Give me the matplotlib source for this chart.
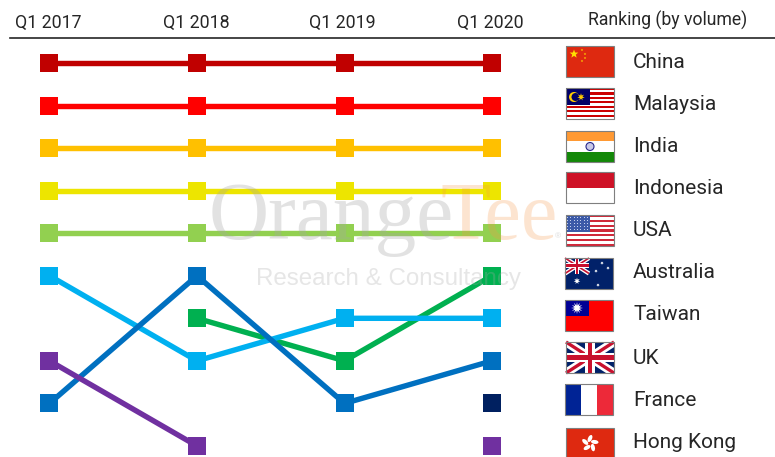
import numpy as np
import matplotlib
matplotlib.use("Agg")
import matplotlib.pyplot as plt
from matplotlib.patches import Rectangle, Circle, Polygon, Ellipse

plt.rcParams['font.family'] = ['Roboto', 'DejaVu Sans']

# Data: rank of each country per quarter (nan = not in the top 10)
quarters = ["Q1 2017", "Q1 2018", "Q1 2019", "Q1 2020"]
china = [1, 1, 1, 1]
malaysia = [2, 2, 2, 2]
india = [3, 3, 3, 3]
indonesia = [4, 4, 4, 4]
usa = [5, 5, 5, 5]
australia = [np.nan, 7, 8, 6]
taiwan = [6, 8, 7, 7]
uk = [9, 6, 9, 8]
france = [np.nan, np.nan, np.nan, 9]
hong_kong = [8, 10, np.nan, 10]
countries = ["China", "Malaysia", "India", "Indonesia", "USA", "Australia",
             "Taiwan", "UK", "France", "Hong Kong"]
colors = ["#C00000", "#FF0000", "#FFC000", "#EDE500", "#92D050", "#00B050",
          "#00B0F0", "#0070C0", "#002060", "#7030A0"]
series = [china, malaysia, india, indonesia, usa, australia, taiwan, uk, france, hong_kong]

W, H = 775, 457
fig = plt.figure(figsize=(W / 100, H / 100), dpi=100)

# Chart axes covers the whole figure, limits line up ranks with the rows
ax = fig.add_axes([0, 0, 1, 1])
ax.set_xlim(-49.5 / 147.5, (W - 49.5) / 147.5)
ax.set_ylim(1 + (H - 63) / 42.55, 1 - 63 / 42.55)
ax.axis("off")
for vals, col in zip(series, colors):
    vals = np.array(vals, dtype=float)
    x = np.arange(len(vals))
    # only connect neighbouring quarters
    ax.plot(x, vals, color=col, lw=3.9, solid_capstyle="butt", zorder=2)
    ax.plot(x, vals, color=col, ls="none", marker="s", ms=13, mew=0, zorder=3)

# Overlay in pixel coordinates for header, flags and watermark
ov = fig.add_axes([0, 0, 1, 1])
ov.set_xlim(0, W)
ov.set_ylim(H, 0)
ov.axis("off")
ov.patch.set_alpha(0)

for q, px in zip(quarters, [48.5, 196, 342, 490]):
    ov.text(px, 23, q, ha="center", va="center", fontsize=12.8, color="#262626")
ov.text(668, 20, "Ranking (by volume)", ha="center", va="center", fontsize=12.7, color="#262626")
ov.plot([10, 775], [38, 38], color="#262626", lw=1.2)


def star(cx, cy, r, color, n=5, zorder=6):
    ang = np.linspace(-np.pi / 2, 1.5 * np.pi, 2 * n, endpoint=False)
    rad = np.where(np.arange(2 * n) % 2 == 0, r, r * 0.42)
    ov.add_patch(Polygon(np.c_[cx + rad * np.cos(ang), cy + rad * np.sin(ang)],
                         fc=color, ec="none", zorder=zorder))


def rect(x, y, w, h, color, zorder=5):
    ov.add_patch(Rectangle((x, y), w, h, fc=color, ec="none", zorder=zorder))


def line(xs, ys, color, lw, zorder=6):
    ov.plot(xs, ys, color=color, lw=lw, solid_capstyle="butt", zorder=zorder)


def union_jack(x, y, w, h, zorder=6):
    line([x, x + w], [y, y + h], "white", w * 0.13, zorder)
    line([x, x + w], [y + h, y], "white", w * 0.13, zorder)
    line([x, x + w], [y, y + h], "#C8102E", w * 0.05, zorder)
    line([x, x + w], [y + h, y], "#C8102E", w * 0.05, zorder)
    rect(x + w * 0.40, y, w * 0.20, h, "white", zorder)
    rect(x, y + h * 0.35, w, h * 0.30, "white", zorder)
    rect(x + w * 0.45, y, w * 0.10, h, "#C8102E", zorder)
    rect(x, y + h * 0.41, w, h * 0.18, "#C8102E", zorder)


def flag_china(x, y, w, h):
    rect(x, y, w, h, "#DE2910")
    star(x + 8, y + 8, 4.5, "#FFDE00")
    for dx, dy in [(16, 4), (19, 8), (19, 12), (16, 15)]:
        star(x + dx, y + dy, 1.3, "#FFDE00")


def flag_malaysia(x, y, w, h):
    rect(x, y, w, h, "white")
    for i in range(0, 14, 2):
        rect(x, y + i * h / 14, w, h / 14, "#CC0001")
    rect(x, y, w * 0.5, h * 0.5 + 1, "#010066")
    ov.add_patch(Circle((x + 8, y + 9), 5, fc="#FFCC00", ec="none", zorder=6))
    ov.add_patch(Circle((x + 9.5, y + 9), 4, fc="#010066", ec="none", zorder=6))
    star(x + 15, y + 9, 3.8, "#FFCC00", n=7, zorder=7)


def flag_india(x, y, w, h):
    rect(x, y, w, h / 3, "#FF9933")
    rect(x, y + h / 3, w, h / 3, "white")
    rect(x, y + 2 * h / 3, w, h / 3, "#138808")
    ov.add_patch(Circle((x + w / 2, y + h / 2), 4, fc="#C9C9E8", ec="#2A2A8C", lw=0.8, zorder=6))


def flag_indonesia(x, y, w, h):
    rect(x, y, w, h, "white")
    rect(x, y, w, h / 2, "#CE1126")


def flag_usa(x, y, w, h):
    rect(x, y, w, h, "white")
    for i in range(0, 13, 2):
        rect(x, y + i * h / 13, w, h / 13, "#D0293A")
    rect(x, y, w * 0.5, h * 7 / 13, "#3C5AA8")
    for i in range(7):
        for j in range(5):
            rect(x + 1 + i * 3.3, y + 1.5 + j * 3, 1, 1, "#C8D2EE", zorder=6)


def flag_australia(x, y, w, h):
    rect(x, y, w, h, "#012169")
    union_jack(x, y, w / 2, h / 2)
    star(x + 12, y + 23, 3.4, "white", n=7)
    for dx, dy in [(37, 5), (31, 13), (43, 10), (33, 27)]:
        star(x + dx, y + dy, 1.8, "white", n=7)


def flag_taiwan(x, y, w, h):
    rect(x, y, w, h, "#FE0000")
    rect(x, y, w / 2, h / 2, "#000095")
    star(x + 12, y + 8, 6, "white", n=12)


def flag_uk(x, y, w, h):
    rect(x, y, w, h, "#012169")
    union_jack(x, y, w, h)


def flag_france(x, y, w, h):
    rect(x, y, w / 3, h, "#002395")
    rect(x + w / 3, y, w / 3, h, "white")
    rect(x + 2 * w / 3, y, w / 3, h, "#ED2939")


def flag_hong_kong(x, y, w, h):
    rect(x, y, w, h, "#DE2910")
    cx, cy = x + w / 2, y + h / 2
    # five separate petals pointing out from the centre
    for d in [-90, -18, 54, 126, 198]:
        a = np.deg2rad(d)
        ov.add_patch(Ellipse((cx + 5 * np.cos(a), cy + 5 * np.sin(a)), 7.5, 4,
                             angle=d + 25, fc="white", ec="none", zorder=6))


flag_funcs = [flag_china, flag_malaysia, flag_india, flag_indonesia, flag_usa,
              flag_australia, flag_taiwan, flag_uk, flag_france, flag_hong_kong]
flag_x = [566, 566, 566, 566, 566, 565, 565, 566, 565, 566]
flag_y = [46, 88, 131, 172, 215, 258, 300, 342, 384, 428]
label_y = [62, 104, 146, 188, 231, 272, 315, 358, 401, 442]

for func, fx, fy, name, ly in zip(flag_funcs, flag_x, flag_y, countries, label_y):
    func(fx, fy, 48, 31)
    ov.add_patch(Rectangle((fx, fy), 48, 31, fc="none", ec="#7F7F7F", lw=0.8, zorder=8))
    ov.text(633, ly, name, ha="left", va="center", fontsize=15, color="#262626")

# Watermark
ov.text(209, 239, "Orange", family="Liberation Serif", fontsize=60, color="#A6A6A6",
        alpha=0.32, ha="left", va="baseline", zorder=9)
ov.text(441, 239, "Tee", family="Liberation Serif", fontsize=59, color="#F79646",
        alpha=0.25, ha="left", va="baseline", zorder=9)
ov.text(555, 238, "®", family="Liberation Sans", fontsize=6, color="#A6A6A6",
        alpha=0.4, ha="left", va="baseline", zorder=9)
ov.text(256, 285, "Research & Consultancy", family="Liberation Sans", fontsize=17.4,
        color="#A6A6A6", alpha=0.28, ha="left", va="baseline", zorder=9)

fig.savefig("out.png", dpi=100)
